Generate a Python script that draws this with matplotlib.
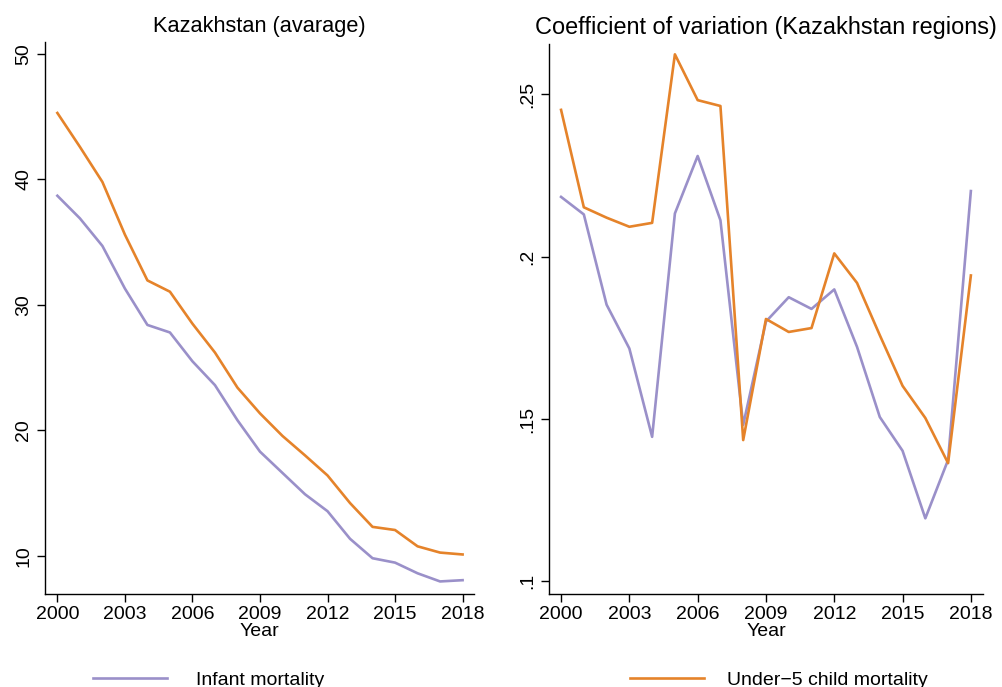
import matplotlib
matplotlib.use("Agg")
import matplotlib.pyplot as plt
from matplotlib.lines import Line2D

plt.rcParams["font.family"] = ["Liberation Sans", "DejaVu Sans"]

years = list(range(2000, 2019))

# Kazakhstan average (per 1000)
infant_avg = [38.7, 36.9, 34.7, 31.3, 28.4, 27.8, 25.5, 23.6, 20.8, 18.3,
              16.6, 14.9, 13.55, 11.35, 9.8, 9.45, 8.6, 7.95, 8.05]
under5_avg = [45.3, 42.6, 39.8, 35.6, 31.95, 31.05, 28.5, 26.2, 23.4, 21.35,
              19.55, 18.0, 16.4, 14.2, 12.3, 12.05, 10.75, 10.25, 10.1]

# Coefficient of variation across regions
infant_cv = [0.2184, 0.2130, 0.1852, 0.1717, 0.1445, 0.2133, 0.2310, 0.2112,
             0.1482, 0.1800, 0.1875, 0.1839, 0.1899, 0.1722, 0.1506, 0.1402,
             0.1194, 0.1374, 0.2202]
under5_cv = [0.2452, 0.2152, 0.2120, 0.2092, 0.2104, 0.2623, 0.2482, 0.2464,
             0.1435, 0.1808, 0.1768, 0.1780, 0.2010, 0.1919, 0.1758, 0.1602,
             0.1503, 0.1364, 0.1942]

year_ticks = [2000, 2003, 2006, 2009, 2012, 2015, 2018]
cv_ticks = [0.10, 0.15, 0.20, 0.25]
cv_labels = [".1", ".15", ".2", ".25"]

PURPLE = "#9a90c9"
ORANGE = "#e5832a"
LW = 1.9
FS = 14

fig = plt.figure(figsize=(10.02, 6.87), dpi=100)
ax1 = fig.add_axes([0.0449, 0.1354, 0.428, 0.8035])
ax2 = fig.add_axes([0.5479, 0.1354, 0.4333, 0.8006])

ax1.plot(years, infant_avg, color=PURPLE, linewidth=LW)
ax1.plot(years, under5_avg, color=ORANGE, linewidth=LW)
ax1.set_ylim(6.95, 50.96)
ax1.set_xlim(1999.45, 2018.5)
ax1.set_yticks([10, 20, 30, 40, 50])
ax1.set_title("Kazakhstan (avarage)", fontsize=15.7, pad=7)

ax2.plot(years, infant_cv, color=PURPLE, linewidth=LW)
ax2.plot(years, under5_cv, color=ORANGE, linewidth=LW)
ax2.set_ylim(0.0961, 0.2655)
ax2.set_xlim(1999.47, 2018.54)
ax2.set_yticks(cv_ticks)
ax2.set_yticklabels(cv_labels)
ax2.set_title("Coefficient of variation (Kazakhstan regions)", fontsize=16.9, pad=7.5)

for ax in (ax1, ax2):
    ax.set_xticks(year_ticks)
    ax.set_xlabel("Year", fontsize=FS, labelpad=0)
    for side in ("top", "right"):
        ax.spines[side].set_visible(False)
    for side in ("left", "bottom"):
        ax.spines[side].set_linewidth(1.0)
    ax.tick_params(axis="both", labelsize=FS, length=5.5, width=1.0)
    ax.tick_params(axis="y", labelrotation=90)
    for lab in ax.get_yticklabels():
        lab.set_verticalalignment("center")

# two separate legend entries, spread along the bottom edge
legend_y = 1 - 680 / 687
leg_kw = dict(loc="center left", frameon=False, fontsize=FS, handlelength=3.8,
              borderpad=0, borderaxespad=0)
fig.legend([Line2D([], [], color=PURPLE, linewidth=LW)], ["Infant mortality"],
           bbox_to_anchor=(93 / 1002, legend_y), handletextpad=1.5, **leg_kw)
fig.legend([Line2D([], [], color=ORANGE, linewidth=LW)], ["Under\u22125 child mortality"],
           bbox_to_anchor=(630 / 1002, legend_y), handletextpad=1.2, **leg_kw)

fig.savefig("out.png", dpi=100)
